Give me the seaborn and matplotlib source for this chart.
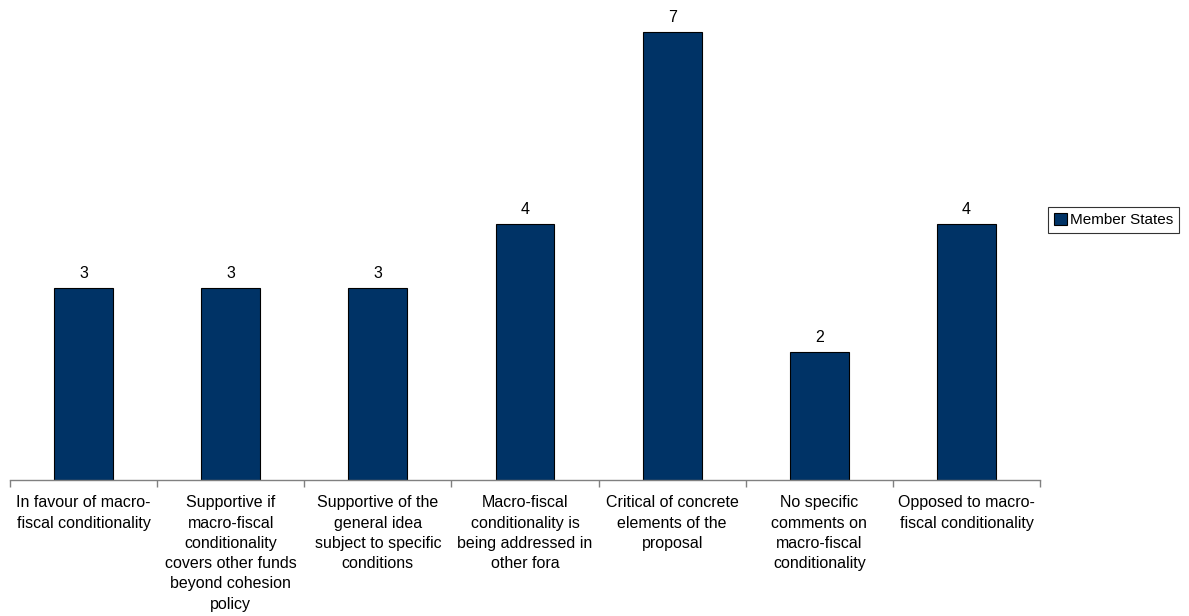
import numpy as np
import pandas as pd
import matplotlib.pyplot as plt
import seaborn as sns

categories = [
    "In favour of macro-\nfiscal conditionality",
    "Supportive if\nmacro-fiscal\nconditionality\ncovers other funds\nbeyond cohesion\npolicy",
    "Supportive of the\ngeneral idea\nsubject to specific\nconditions",
    "Macro-fiscal\nconditionality is\nbeing addressed in\nother fora",
    "Critical of concrete\nelements of the\nproposal",
    "No specific\ncomments on\nmacro-fiscal\nconditionality",
    "Opposed to macro-\nfiscal conditionality",
]
values = [3, 3, 3, 4, 7, 2, 4]
series_name = "Member States"

df = pd.DataFrame({"cat": categories, "val": values, "series": series_name})

sns.set_style("white", {"text.color": "black", "xtick.color": "black"})
plt.rcParams['font.family'] = ['Liberation Sans', 'DejaVu Sans']

fig = plt.figure(figsize=(11.89, 6.16), dpi=100)
ax = fig.add_axes([0.0084, 0.2208, 0.8663, 0.7792])

sns.barplot(data=df, x="cat", y="val", hue="series", palette=["#003366"],
            saturation=1, width=0.4, edgecolor="black", linewidth=0.8, ax=ax)

for c in ax.containers:
    ax.bar_label(c, padding=5, fontsize=11.5, color="black")

ax.set_ylim(0, 7.5)
ax.set_xlim(-0.5, len(categories) - 0.5)
ax.set_xlabel("")
ax.set_ylabel("")
ax.set_yticks([])
ax.set_xticks(range(len(categories)))
ax.set_xticklabels(categories, fontsize=11.5, linespacing=1.44, color="black")
ax.tick_params(axis="x", which="major", length=0, pad=11)
ax.set_xticks(np.arange(-0.5, len(categories)), minor=True)
ax.tick_params(axis="x", which="minor", bottom=True, length=5, color="#808080",
               width=1, direction="out")
for s in ["top", "right", "left"]:
    ax.spines[s].set_visible(False)
ax.spines["bottom"].set_color("#808080")
ax.spines["bottom"].set_linewidth(1)

leg = ax.legend(loc="center left", bbox_to_anchor=(1.0, 0.542), frameon=True,
                fontsize=11, handlelength=0.85, handleheight=0.85, handletextpad=0.2,
                borderpad=0.4, borderaxespad=0.5, fancybox=False, edgecolor="black")
leg.get_frame().set_linewidth(0.8)
for t in leg.get_texts():
    t.set_color("black")

fig.savefig("out.png", dpi=100)
